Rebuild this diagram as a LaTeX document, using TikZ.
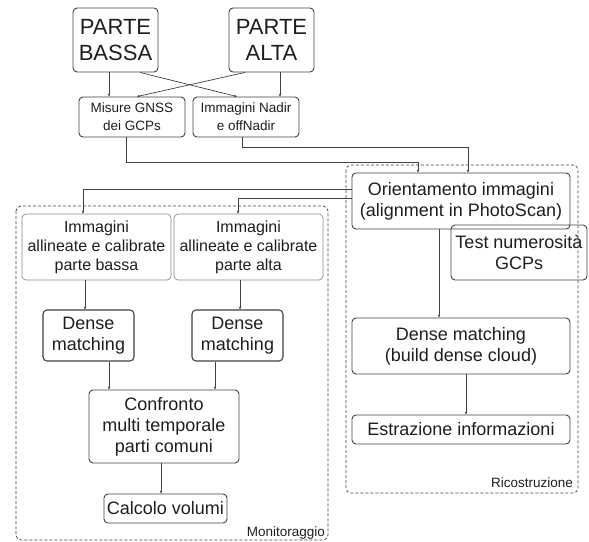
\documentclass[tikz,border=0pt]{standalone}
\usepackage{fontspec}
\setmainfont{Liberation Sans}
\usetikzlibrary{arrows.meta}
\definecolor{ln}{HTML}{404040}
\definecolor{tx}{HTML}{1E1E1E}
\definecolor{lb}{HTML}{8A8A8A}
\begin{document}
\begin{tikzpicture}[x=1pt,y=-1pt,
  box/.style={draw=ln, line width=0.9pt, rounded corners=4pt, align=center, inner sep=0pt, text=tx},
  lbox/.style={box, draw=lb, line width=0.7pt},
  arr/.style={draw=ln, line width=0.7pt, -{Stealth[length=3pt,width=2.6pt]}},
  grp/.style={draw=ln, line width=0.7pt, dashed, dash pattern=on 3pt off 2pt, rounded corners=5pt},
  big/.style={font=\fontsize{22}{26}\selectfont},
  med/.style={font=\fontsize{18}{21}\selectfont},
  mid/.style={font=\fontsize{16}{19}\selectfont},
  sml/.style={font=\fontsize{13.5}{18}\selectfont},
]
\useasboundingbox (0,0) rectangle (589,541);
% groups
\draw[grp] (346,165) rectangle (578,493);
\draw[grp] (16,206) rectangle (328,540);
\node[sml, text=tx, anchor=base east, inner sep=0pt] (lmon) at (325,536) {Monitoraggio};
\node[sml, text=tx, anchor=base east, inner sep=0pt] (lric) at (573,487) {Ricostruzione};
% top
\node[box, big, minimum width=85pt, minimum height=64pt] (pb) at (115.5,40) {PARTE\\BASSA};
\node[box, big, minimum width=85pt, minimum height=64pt] (pa) at (271.5,40) {PARTE\\ALTA};
\node[box, sml, minimum width=106pt, minimum height=40pt] (gnss) at (132,117) {Misure GNSS\\dei GCPs};
\node[box, sml, minimum width=106pt, minimum height=40pt] (nadir) at (246,117) {Immagini Nadir\\e offNadir};
% right column
\node[box, med, minimum width=136pt, minimum height=55pt] (test) at (519,252.5) {Test numerosità\\GCPs};
\node[box, med, minimum width=218pt, minimum height=56pt] (orient) at (461,201) {Orientamento immagini\\(alignment in PhotoScan)};
\node[box, med, minimum width=218pt, minimum height=56pt] (dmr) at (461,346) {Dense matching\\(build dense cloud)};
\node[box, med, minimum width=218pt, minimum height=29pt] (estr) at (461,429.5) {Estrazione informazioni};
% left column
\node[lbox, mid, minimum width=149pt, minimum height=66pt] (ib) at (96.5,247) {Immagini\\allineate e calibrate\\parte bassa};
\node[lbox, mid, minimum width=149pt, minimum height=66pt] (ia) at (248.5,247) {Immagini\\allineate e calibrate\\parte alta};
\node[box, med, line width=1.1pt, minimum width=91pt, minimum height=51pt] (dl) at (88.5,335.5) {Dense\\matching};
\node[box, med, line width=1.1pt, minimum width=91pt, minimum height=51pt] (dr) at (237.5,335.5) {Dense\\matching};
\node[box, med, minimum width=150pt, minimum height=73pt] (conf) at (164,426.5) {Confronto\\multi temporale\\parti comuni};
\node[box, med, minimum width=123pt, minimum height=29pt] (calc) at (165.5,508.5) {Calcolo volumi};
% connectors top
\draw[arr] (pb.south -| 109,0) -- (gnss.north -| 109,0);
\draw[arr] (pb.south -| 140,0) -- (nadir.north -| 237,0);
\draw[arr] (pa.south -| 245,0) -- (gnss.north -| 137,0);
\draw[arr] (pa.south -| 280,0) -- (nadir.north -| 280,0);
\draw[arr] (gnss.south -| 126,0) |- (418,162) -- (orient.north -| 418,0);
\draw[arr] (nadir.south -| 242,0) |- (468,147) -- (orient.north -| 468,0);
% connectors from orient to left
\draw[arr] (orient.west |- 0,189) -| (ib.north -| 83,0);
\draw[arr] (orient.west |- 0,198) -| (ia.north -| 238,0);
% left column
\draw[arr] (ib.south -| 85,0) -- (dl.north -| 85,0);
\draw[arr] (ia.south -| 240,0) -- (dr.north -| 240,0);
\draw[arr] (dl.south -| 109,0) -- (conf.north -| 109,0);
\draw[arr] (dr.south -| 215,0) -- (conf.north -| 215,0);
\draw[arr] (conf.south -| 161,0) -- (calc.north -| 161,0);
% right column
\draw[arr] (orient.south -| 439,0) -- (dmr.north -| 439,0);
\draw[arr] (dmr.south -| 466,0) -- (estr.north -| 466,0);
\end{tikzpicture}
\end{document}
